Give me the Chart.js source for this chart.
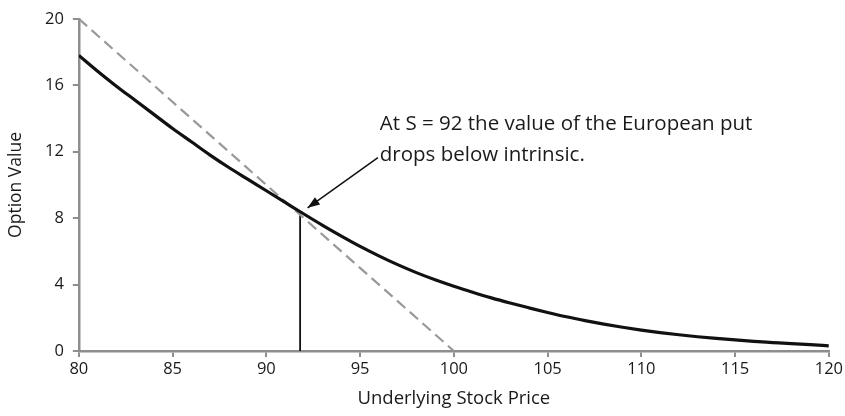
<!DOCTYPE html>
<html lang="en">
<head>
    <meta charset="UTF-8">
    <title>European put vs intrinsic value</title>
    <script src="https://cdn.jsdelivr.net/npm/chart.js"></script>
    <style>
        html, body { margin: 0; padding: 0; background: #fff; }
    </style>
</head>
<body>
    <div style="width:845px; height:416px;">
        <canvas id="myChart" width="845" height="416"></canvas>
    </div>

    <script>
        // stock prices and option values
        const prices = [80, 81, 82, 83, 84, 85, 86, 87, 88, 89, 90, 91, 92, 93, 94, 95, 96, 97, 98, 99, 100,
                        101, 102, 103, 104, 105, 106, 107, 108, 109, 110, 111, 112, 113, 114, 115, 116, 117, 118, 119, 120];
        const putValues = [17.8, 16.85, 15.95, 15.1, 14.25, 13.4, 12.6, 11.8, 11.05, 10.35, 9.65, 8.95, 8.25, 7.57, 6.92, 6.3,
                           5.73, 5.2, 4.72, 4.29, 3.9, 3.54, 3.2, 2.89, 2.6, 2.32, 2.06, 1.83, 1.62, 1.43, 1.26,
                           1.11, 0.98, 0.86, 0.76, 0.67, 0.58, 0.51, 0.44, 0.38, 0.31];
        const intrinsicPrices = [80, 100];
        const intrinsicValues = [20, 0];
        const crossPrice = 91.8;
        const crossValue = 8.25;
        const xTicks = [80, 85, 90, 95, 100, 105, 110, 115, 120];
        const yTicks = [0, 4, 8, 12, 16, 20];
        const noteLines = ['At S = 92 the value of the European put', 'drops below intrinsic.'];

        const axisGray = '#8e8e8e';
        const fontFamily = '"Open Sans", Lato, sans-serif';

        // arrow + text callout
        const notePlugin = {
            id: 'note',
            afterDatasetsDraw(chart) {
                const ctx = chart.ctx;
                const xs = chart.scales.x, ys = chart.scales.y;
                const tx = xs.getPixelForValue(95.95), ty = ys.getPixelForValue(11.65);
                const hx = xs.getPixelForValue(92.2), hy = ys.getPixelForValue(8.62);
                ctx.save();
                ctx.strokeStyle = '#111';
                ctx.fillStyle = '#111';
                ctx.lineWidth = 1.5;
                ctx.beginPath();
                ctx.moveTo(tx, ty);
                ctx.lineTo(hx, hy);
                ctx.stroke();
                const a = Math.atan2(hy - ty, hx - tx);
                ctx.beginPath();
                ctx.moveTo(hx, hy);
                ctx.lineTo(hx - 13 * Math.cos(a - 0.35), hy - 13 * Math.sin(a - 0.35));
                ctx.lineTo(hx - 13 * Math.cos(a + 0.35), hy - 13 * Math.sin(a + 0.35));
                ctx.closePath();
                ctx.fill();

                ctx.font = '20.5px ' + fontFamily;
                ctx.fillStyle = '#1a1a1a';
                ctx.textBaseline = 'middle';
                const lx = xs.getPixelForValue(96.05);
                ctx.fillText(noteLines[0], lx, ys.getPixelForValue(13.65));
                ctx.fillText(noteLines[1], lx, ys.getPixelForValue(11.8));
                ctx.restore();
            }
        };

        const ctx = document.getElementById('myChart').getContext('2d');
        const myChart = new Chart(ctx, {
            type: 'line',
            data: {
                datasets: [
                    {
                        label: 'European put',
                        data: prices.map((p, i) => ({ x: p, y: putValues[i] })),
                        borderColor: '#111',
                        borderWidth: 3.2,
                        pointRadius: 0,
                        cubicInterpolationMode: 'monotone'
                    },
                    {
                        label: 'Intrinsic value',
                        data: intrinsicPrices.map((p, i) => ({ x: p, y: intrinsicValues[i] })),
                        borderColor: '#999',
                        borderWidth: 2.2,
                        borderDash: [11, 6],
                        pointRadius: 0
                    },
                    {
                        label: 'S = 92',
                        data: [{ x: crossPrice, y: 0 }, { x: crossPrice, y: crossValue }],
                        borderColor: '#111',
                        borderWidth: 1.8,
                        pointRadius: 0
                    }
                ]
            },
            options: {
                responsive: false,
                animation: false,
                layout: { padding: { top: -1, right: 14, left: 2, bottom: 2 } },
                scales: {
                    x: {
                        type: 'linear',
                        min: 80,
                        max: 120,
                        afterBuildTicks: axis => { axis.ticks = xTicks.map(v => ({ value: v })); },
                        grid: { drawOnChartArea: false, color: axisGray, tickLength: 6, lineWidth: 2 },
                        border: { color: axisGray, width: 2.5 },
                        ticks: { color: '#1a1a1a', font: { family: fontFamily, size: 16.5 }, padding: 2 },
                        title: { display: true, text: 'Underlying Stock Price', color: '#1a1a1a',
                                 font: { family: fontFamily, size: 18.5 }, padding: { top: 7 } }
                    },
                    y: {
                        min: 0,
                        max: 20,
                        afterBuildTicks: axis => { axis.ticks = yTicks.map(v => ({ value: v })); },
                        grid: { drawOnChartArea: false, color: axisGray, tickLength: 6, lineWidth: 2 },
                        border: { color: axisGray, width: 2.5 },
                        ticks: { color: '#1a1a1a', font: { family: fontFamily, size: 16.5 }, padding: 9 },
                        title: { display: true, text: 'Option Value', color: '#1a1a1a',
                                 font: { family: fontFamily, size: 17.5 }, padding: { bottom: 9 } }
                    }
                },
                plugins: {
                    legend: { display: false },
                    tooltip: { enabled: false }
                }
            },
            plugins: [notePlugin]
        });
    </script>
</body>
</html>
